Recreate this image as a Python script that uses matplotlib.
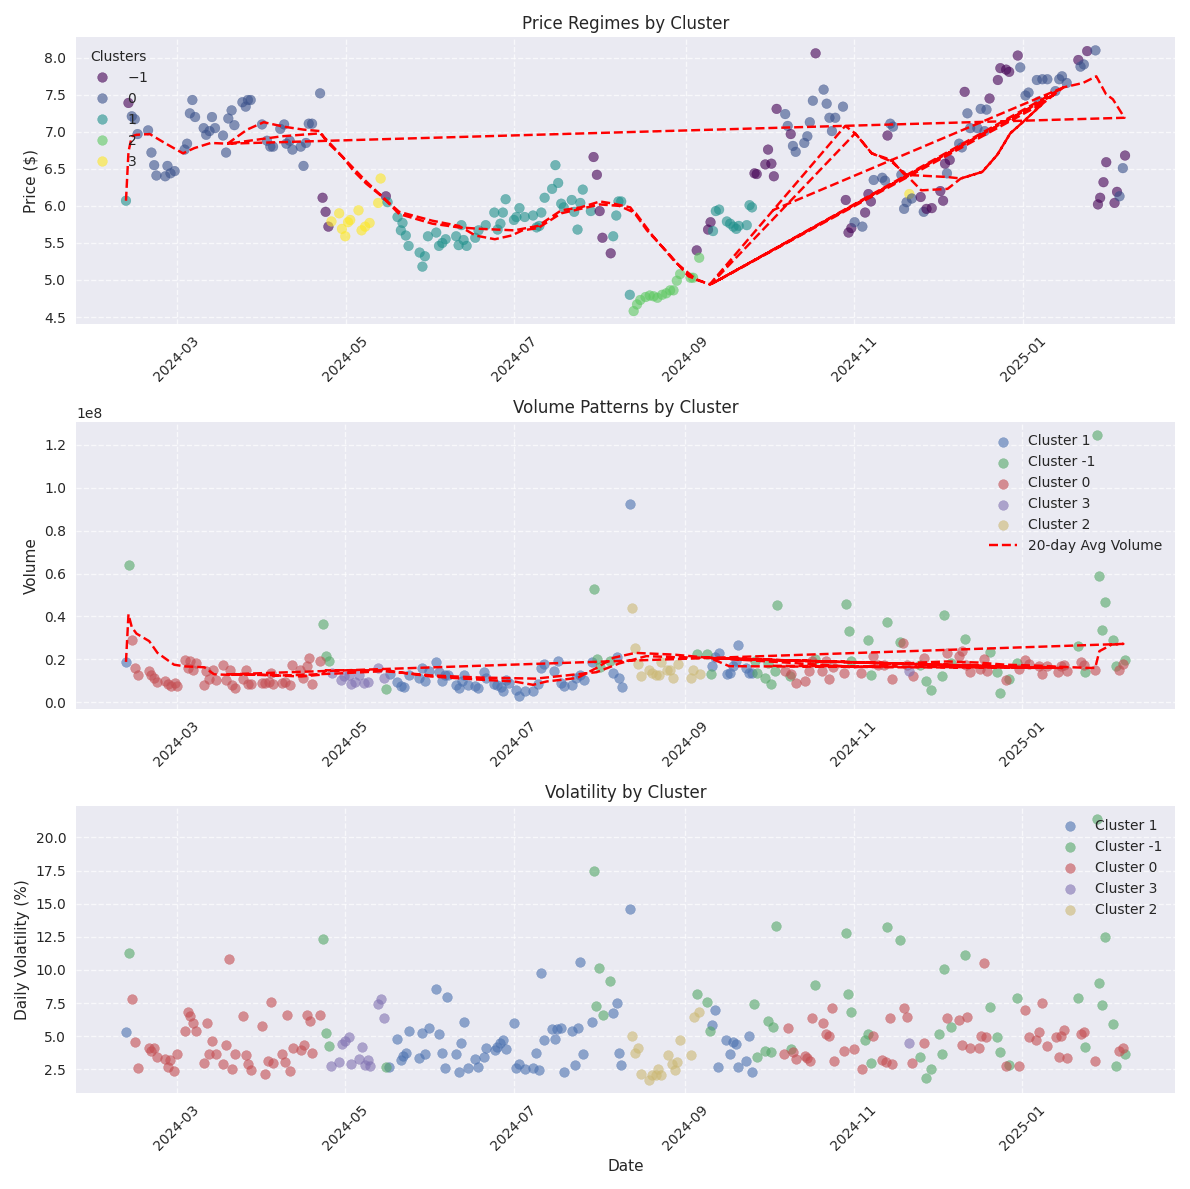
import numpy as np
import pandas as pd
import matplotlib
matplotlib.use("Agg")
import matplotlib.pyplot as plt
import matplotlib.dates as mdates

BASE = pd.Timestamp("2024-03-01")


def to_dates(days):
    return BASE + pd.to_timedelta(np.asarray(days, dtype=float), unit="D")


# ---------------- data: (day offset from 2024-03-01, value) ----------------
cluster_order = [1, -1, 0, 3, 2]

# Price ($)
price_c1 = [(-18.4, 6.07), (76.2, 6.05), (79.8, 5.85), (81.0, 5.67), (81.6, 5.77), (82.8, 5.60), (83.8, 5.46),
            (87.8, 5.37), (88.8, 5.18), (89.7, 5.32), (90.8, 5.59), (93.8, 5.64), (94.8, 5.46), (96.0, 5.50),
            (97.2, 5.55), (101.0, 5.59), (101.9, 5.47), (102.9, 5.74), (103.7, 5.54), (104.8, 5.46), (107.9, 5.57),
            (109.1, 5.67), (111.7, 5.74), (114.8, 5.91), (116.0, 5.68), (117.0, 5.76), (117.9, 5.91), (118.9, 6.09),
            (121.9, 5.81), (122.8, 5.85), (123.9, 5.97), (125.8, 5.85), (128.8, 5.87), (130.1, 5.71), (131.1, 5.73),
            (131.8, 5.91), (133.0, 6.11), (135.7, 6.23), (136.9, 6.55), (137.9, 6.31), (139.0, 6.03), (139.9, 5.98),
            (142.8, 6.08), (143.7, 5.92), (144.9, 5.68), (145.9, 6.04), (146.8, 6.22), (149.7, 5.93), (157.8, 5.59),
            (158.9, 5.87), (159.7, 6.06), (160.7, 6.06), (163.8, 4.80), (193.9, 5.66), (194.9, 5.93), (196.1, 5.95),
            (198.9, 5.79), (200.1, 5.76), (201.3, 5.72), (202.3, 5.69), (203.2, 5.73), (206.1, 5.74), (207.1, 6.01),
            (208.0, 5.98)]
price_cm1 = [(-17.5, 7.39), (52.7, 6.11), (53.8, 5.92), (54.8, 5.72), (75.6, 6.13), (150.7, 6.66), (151.9, 6.42),
             (152.9, 5.93), (153.9, 5.57), (156.9, 5.36), (188.0, 5.40), (192.1, 5.68), (193.0, 5.78), (208.9, 6.44),
             (209.7, 6.43), (212.8, 6.56), (213.8, 6.76), (215.0, 6.57), (215.9, 6.40), (216.9, 7.31), (222.0, 6.97),
             (231.0, 8.06), (241.9, 6.08), (242.9, 5.64), (243.9, 5.70), (248.9, 5.91), (250.1, 6.16), (251.0, 6.06),
             (257.0, 6.95), (269.0, 6.12), (271.1, 5.96), (273.0, 5.97), (276.1, 6.20), (277.1, 6.07), (277.8, 6.57),
             (279.5, 6.62), (284.9, 7.54), (293.9, 7.45), (296.9, 7.70), (297.8, 7.86), (299.9, 7.84), (301.0, 7.81),
             (304.1, 8.03), (326.0, 7.97), (329.2, 8.09), (333.1, 6.02), (333.9, 6.11), (335.1, 6.32), (336.1, 6.59),
             (339.1, 6.04), (340.0, 6.19), (342.9, 6.68)]
price_c0 = [(-16.3, 7.21), (-15.2, 7.17), (-14.2, 6.97), (-10.4, 7.02), (-9.2, 6.72), (-8.2, 6.55), (-7.4, 6.41),
            (-4.2, 6.40), (-3.4, 6.54), (-2.3, 6.44), (-0.8, 6.47), (2.8, 6.76), (3.7, 6.84), (4.7, 7.25), (5.6, 7.43),
            (6.6, 7.20), (9.7, 7.05), (10.6, 6.96), (11.8, 7.01), (12.7, 7.20), (13.8, 7.05), (16.7, 6.95),
            (17.8, 6.72), (18.6, 7.18), (19.8, 7.29), (20.8, 7.09), (23.7, 7.40), (24.9, 7.34), (25.7, 7.43),
            (26.7, 7.43), (30.8, 7.10), (32.6, 6.88), (33.8, 6.80), (34.8, 6.80), (37.4, 7.04), (38.8, 7.10),
            (39.6, 6.84), (40.8, 6.88), (41.8, 6.76), (44.8, 6.80), (45.8, 6.54), (46.7, 6.85), (47.7, 7.11),
            (48.9, 7.11), (51.8, 7.52), (220.0, 7.24), (220.9, 7.08), (222.8, 6.81), (223.8, 6.73), (226.9, 6.85),
            (228.0, 6.94), (228.9, 7.13), (230.0, 7.42), (233.9, 7.57), (235.0, 7.38), (236.0, 7.19), (236.9, 7.01),
            (238.1, 7.19), (240.9, 7.34), (245.1, 5.78), (247.9, 5.72), (252.0, 6.35), (255.1, 6.38), (256.1, 6.34),
            (258.0, 7.11), (259.0, 7.07), (262.0, 6.42), (263.0, 5.96), (263.9, 6.05), (265.8, 6.10), (270.1, 5.92),
            (278.5, 6.44), (282.9, 6.84), (283.9, 6.79), (285.9, 7.25), (286.9, 7.05), (289.5, 7.05), (290.7, 7.31),
            (292.1, 7.01), (292.8, 7.30), (305.0, 7.87), (306.9, 7.49), (308.0, 7.53), (311.0, 7.70), (311.7, 7.41),
            (313.0, 7.71), (314.8, 7.71), (317.7, 7.55), (319.1, 7.71), (320.1, 7.75), (321.8, 7.66), (326.8, 7.88),
            (328.0, 7.91), (332.2, 8.10), (340.9, 6.13), (342.1, 6.51)]
price_c3 = [(55.9, 5.79), (58.7, 5.90), (59.7, 5.69), (60.9, 5.59), (61.9, 5.78), (62.7, 5.81), (65.7, 5.94),
            (66.8, 5.67), (68.1, 5.72), (69.7, 5.77), (72.8, 6.04), (73.7, 6.37), (264.9, 6.16)]
price_c2 = [(165.2, 4.58), (166.4, 4.67), (167.6, 4.73), (169.5, 4.77), (171.0, 4.79), (172.4, 4.78), (173.8, 4.76),
            (175.5, 4.80), (177.0, 4.82), (178.4, 4.86), (179.6, 4.86), (180.8, 4.99), (182.0, 5.08), (185.8, 5.03),
            (186.7, 5.03), (188.9, 5.30)]

# 20-day moving average of price, in plotted order
price_ma_day = [-18.4, -17.5, -16.3, -14.6, -9.8, -4.4, 2.2, 6.3, 12.3, 18.3, 25.4, 31.4, 38.6, 45.8, 51.8, 54.1,
                60.0, 63.7, 68.5, 74.4, 80.4, 92.4, 101.9, 110.0, 122.0, 130.6, 139.0, 146.0, 153.0, 158.0, 164.0,
                170.0, 178.0, 185.0, 192.7,
                241.7, 245.3, 251.3, 258.4, 263.2, 269.2, 278.7, 283.5, 291.3, 296.7, 301.4, 306.2, 313.4, 320.6,
                327.7, 332.5, 336.0, 338.5, 342.7,
                18.3, 38.0, 51.8, 54.5, 61.0, 68.5, 75.0, 80.4, 92.4, 102.0, 108.0, 115.0, 121.0, 125.0, 130.6,
                139.0, 146.0, 153.0, 160.0, 166.0, 172.0, 180.0, 188.0, 193.0,
                245.3, 251.3, 258.4, 263.2, 278.7, 283.5, 291.3, 296.7, 301.4, 306.2, 313.4,
                193.5, 318.0, 194.5, 320.6, 215.4]
price_ma_val = [6.07, 6.73, 6.94, 6.96, 6.97, 6.85, 6.71, 6.78, 6.85, 6.84, 7.03, 7.13, 7.07, 7.03, 7.01, 6.87,
                6.66, 6.48, 6.30, 6.12, 5.89, 5.76, 5.71, 5.69, 5.67, 5.73, 5.94, 5.98, 6.06, 6.03, 5.98,
                5.67, 5.35, 5.05, 4.94,
                7.08, 6.98, 6.71, 6.60, 6.44, 6.21, 6.23, 6.37, 6.46, 6.69, 6.98, 7.14, 7.39, 7.60,
                7.66, 7.75, 7.51, 7.44, 7.19,
                6.84, 6.94, 6.98, 6.88, 6.62, 6.33, 6.10, 5.92, 5.80, 5.73, 5.60, 5.55, 5.60, 5.67, 5.70,
                5.90, 5.96, 6.02, 6.00, 5.90, 5.60, 5.25, 5.00, 4.94,
                6.98, 6.71, 6.62, 6.42, 6.39, 6.37, 6.46, 6.69, 6.98, 7.14, 7.39,
                4.95, 7.52, 4.97, 7.60, 5.94]

# Volume (millions of shares)
vol_c1 = [(-18.4, 18.8), (77.1, 13.1), (79.8, 9.2), (81.0, 7.4), (82.2, 6.9), (84.0, 12.8), (87.6, 11.3),
          (88.8, 16.0), (90.0, 9.7), (91.2, 14.4), (93.9, 18.6), (95.0, 13.9), (95.9, 9.7), (97.1, 12.8),
          (98.1, 12.8), (101.0, 8.1), (102.2, 6.6), (103.1, 9.7), (104.1, 12.8), (105.3, 8.1), (107.9, 7.4),
          (109.1, 6.6), (111.3, 14.1), (112.1, 11.3), (114.8, 8.6), (116.0, 8.1), (117.2, 6.9), (118.1, 5.0),
          (119.1, 10.5), (120.4, 8.9), (122.7, 5.8), (123.8, 3.1), (126.1, 5.3), (129.0, 5.3), (130.6, 8.6),
          (131.8, 16.0), (133.0, 17.8), (136.6, 14.4), (138.0, 19.4), (139.2, 8.9), (140.1, 7.4), (143.2, 8.1),
          (144.6, 11.3), (145.8, 12.8), (147.3, 10.5), (150.3, 18.6), (157.8, 13.6), (159.3, 21.0), (160.2, 11.3),
          (161.1, 6.9), (164.0, 92.6), (193.7, 16.8), (194.9, 21.0), (196.3, 23.0), (199.3, 13.1), (200.1, 13.6),
          (201.3, 16.8), (202.3, 19.1), (203.2, 26.6), (206.1, 16.0), (207.1, 13.6), (208.2, 13.6)]
vol_cm1 = [(-17.3, 63.8), (52.9, 36.7), (54.1, 21.4), (55.1, 19.4), (75.9, 6.2), (150.9, 52.7), (152.1, 20.3),
           (153.3, 16.3), (156.9, 19.0), (188.2, 22.5), (192.1, 22.5), (193.3, 13.1), (209.5, 19.4), (210.0, 13.6),
           (213.0, 11.3), (214.2, 18.3), (215.2, 8.6), (216.4, 14.4), (217.2, 45.4), (222.0, 12.1), (231.0, 20.0),
           (242.3, 46.0), (243.2, 33.2), (244.1, 19.1), (250.1, 29.0), (251.3, 12.5), (257.0, 37.4), (262.0, 28.0),
           (269.2, 17.5), (271.3, 9.7), (273.0, 5.8), (277.0, 12.1), (277.8, 40.7), (280.2, 18.3), (285.3, 29.6),
           (294.3, 23.3), (297.0, 13.9), (298.2, 4.2), (301.2, 10.8), (304.1, 18.3), (326.3, 26.4), (328.9, 13.9),
           (333.3, 124.7), (333.9, 59.0), (335.1, 33.6), (336.1, 46.9), (339.1, 29.2), (339.9, 16.8), (343.3, 19.6)]
vol_c0 = [(-16.1, 28.8), (-15.0, 16.0), (-13.9, 12.5), (-10.1, 14.4), (-9.2, 12.8), (-8.2, 11.3), (-7.2, 9.2),
          (-4.1, 9.7), (-3.2, 8.6), (-2.0, 7.4), (-0.8, 8.9), (0.1, 7.4), (2.8, 19.6), (3.9, 16.0), (4.9, 19.1),
          (5.9, 15.2), (7.1, 18.3), (9.9, 8.1), (10.5, 14.4), (11.7, 10.9), (13.2, 14.9), (14.1, 10.5), (16.7, 17.5),
          (17.9, 10.5), (19.1, 15.2), (19.9, 8.1), (20.9, 6.6), (24.0, 10.8), (25.1, 14.9), (25.8, 8.6), (26.9, 8.6),
          (30.8, 8.9), (32.0, 8.9), (33.2, 9.2), (34.2, 13.6), (35.0, 8.6), (38.0, 8.9), (39.2, 9.2), (41.0, 8.1),
          (41.8, 17.5), (44.6, 14.9), (45.8, 11.3), (47.0, 16.8), (47.9, 20.6), (49.1, 8.6), (52.0, 19.1),
          (220.2, 14.4), (222.4, 13.1), (224.0, 8.9), (227.4, 10.0), (228.8, 14.7), (230.1, 19.1), (233.7, 14.4),
          (235.1, 19.1), (236.2, 10.8), (237.5, 16.3), (241.5, 13.6), (247.7, 13.6), (252.2, 21.4), (253.7, 17.5),
          (256.1, 17.5), (259.0, 10.8), (263.0, 27.4), (264.2, 17.5), (266.6, 12.3), (270.4, 20.6), (278.7, 23.0),
          (283.3, 21.4), (284.1, 24.1), (285.9, 17.5), (287.1, 13.9), (290.7, 15.6), (292.1, 20.3), (293.3, 14.4),
          (300.3, 10.5), (305.0, 15.6), (307.2, 19.6), (308.4, 18.0), (312.2, 16.8), (313.2, 13.1), (315.2, 16.8),
          (319.1, 13.9), (320.0, 17.0), (321.2, 17.5), (322.4, 14.4), (327.4, 18.6), (328.3, 17.5), (332.3, 14.9),
          (341.1, 15.2), (342.4, 18.0)]
vol_c3 = [(56.1, 13.6), (59.5, 10.2), (60.5, 12.3), (62.2, 12.8), (63.1, 8.6), (64.5, 9.5), (66.1, 12.8),
          (67.9, 8.9), (69.1, 9.2), (73.0, 16.0), (75.1, 11.3), (265.2, 14.7)]
vol_c2 = [(164.9, 43.8), (165.8, 25.3), (167.0, 17.8), (168.2, 12.3), (171.0, 15.2), (172.2, 13.6), (173.4, 12.5),
          (174.6, 12.5), (175.2, 18.6), (177.4, 15.2), (178.4, 15.2), (179.6, 11.3), (181.4, 17.8), (186.2, 11.3),
          (187.0, 15.2), (189.4, 13.1)]

# 20-day average volume (millions), in plotted order
vol_ma_day = [-18.4, -17.5, -16.3, -14.6, -10.0, -7.0, -1.0, 3.0, 10.0, 13.5, 18.0, 30.0, 45.0, 52.0, 54.0, 75.0,
              92.0, 110.0, 122.0, 129.0, 134.0, 145.0, 152.0, 158.0, 166.0, 180.0, 192.7, 196.0, 200.0,
              241.7, 245.3, 258.0, 269.0, 279.0, 290.0, 300.0, 313.0, 320.0, 330.0, 332.5, 334.0, 338.5, 342.7,
              18.3, 40.0, 60.0, 75.0, 92.0, 110.0, 130.0, 152.0, 160.0, 170.0, 180.0, 193.0,
              245.3, 258.0, 283.5, 313.4, 193.5, 318.0, 194.5, 320.6, 215.4]
vol_ma_val = [18.8, 41.0, 35.0, 32.0, 28.5, 23.0, 17.5, 16.7, 16.3, 13.0, 12.8, 12.8, 12.0, 12.8, 14.9, 14.9,
              12.0, 10.5, 9.7, 8.1, 9.7, 11.3, 16.0, 20.7, 23.0, 22.2, 20.7, 19.0, 16.8,
              16.5, 16.3, 17.5, 18.5, 19.0, 18.5, 17.5, 17.0, 16.5, 16.0, 16.0, 23.8, 26.9, 27.2,
              13.0, 12.5, 13.5, 14.5, 12.5, 11.5, 11.0, 14.0, 18.0, 21.5, 21.0, 20.7,
              16.5, 16.3, 16.2, 16.0, 20.5, 16.0, 20.5, 16.0, 17.0]

# Daily volatility (%)
vola_c1 = [(-18.4, 5.31), (76.8, 2.65), (79.9, 4.78), (81.0, 3.21), (81.9, 3.51), (82.8, 3.76), (84.0, 5.38),
           (87.8, 3.34), (88.9, 5.24), (90.0, 3.64), (91.2, 5.62), (93.9, 8.58), (95.0, 5.18), (96.1, 3.71),
           (97.1, 2.62), (97.8, 7.97), (101.1, 3.64), (102.2, 2.32), (102.9, 4.48), (103.9, 6.09), (105.3, 2.62),
           (107.9, 3.26), (109.1, 2.65), (111.1, 3.46), (112.0, 4.12), (115.1, 3.97), (116.0, 4.22), (117.1, 4.48),
           (118.1, 4.73), (119.1, 4.02), (121.9, 6.00), (122.9, 2.62), (124.0, 2.90), (126.1, 2.50), (129.0, 2.62),
           (130.1, 3.71), (131.2, 2.45), (131.8, 9.74), (133.0, 4.73), (136.0, 5.56), (136.9, 4.78), (137.8, 5.56),
           (139.2, 5.62), (140.1, 2.32), (143.2, 5.36), (144.1, 2.83), (145.3, 5.62), (145.9, 10.63), (147.0, 3.64),
           (150.2, 6.07), (158.1, 6.75), (159.3, 7.51), (160.2, 3.71), (160.9, 2.83), (164.2, 14.60), (193.9, 5.87),
           (194.9, 7.01), (196.1, 2.70), (198.9, 4.68), (200.1, 3.64), (201.3, 4.55), (202.3, 4.40), (203.2, 2.70),
           (206.1, 3.13), (207.1, 5.03), (208.2, 2.32)]
vola_cm1 = [(-17.3, 11.26), (52.9, 12.33), (54.1, 5.24), (55.0, 4.27), (75.9, 2.65), (150.9, 17.47), (151.9, 7.31),
            (152.9, 10.17), (154.3, 6.63), (156.9, 9.19), (188.2, 8.15), (192.1, 7.59), (193.1, 5.41), (209.0, 7.46),
            (210.0, 3.41), (213.0, 3.91), (214.0, 6.12), (215.2, 3.79), (216.0, 5.69), (217.1, 13.34), (222.2, 4.02),
            (231.2, 8.88), (242.3, 12.76), (242.9, 8.15), (244.1, 6.85), (249.1, 4.73), (250.1, 5.18), (251.3, 2.96),
            (257.0, 13.21), (262.0, 12.25), (269.2, 3.41), (271.3, 1.82), (273.1, 2.50), (275.9, 5.18), (277.0, 3.64),
            (277.8, 10.05), (280.2, 5.69), (285.3, 11.16), (294.3, 7.21), (297.0, 4.93), (298.2, 3.79), (301.2, 2.83),
            (304.2, 7.89), (326.2, 7.89), (328.9, 4.17), (333.3, 21.37), (333.9, 9.04), (335.1, 7.36), (336.1, 12.45),
            (339.1, 5.92), (340.0, 2.78), (343.3, 3.64)]
vola_c0 = [(-16.1, 7.82), (-15.0, 4.55), (-13.9, 2.58), (-10.1, 4.10), (-9.2, 3.91), (-8.2, 4.10), (-7.2, 3.46),
           (-4.1, 3.26), (-3.2, 2.70), (-2.3, 3.21), (-1.1, 2.39), (0.0, 3.64), (2.8, 5.41), (3.9, 6.85), (4.9, 6.55),
           (5.9, 6.00), (7.0, 5.41), (9.9, 2.96), (10.9, 6.00), (11.8, 3.64), (12.9, 4.65), (14.1, 3.64), (16.8, 2.90),
           (17.9, 4.32), (18.9, 10.81), (20.1, 2.52), (20.9, 3.64), (24.0, 6.55), (25.1, 3.59), (25.8, 2.88),
           (26.9, 2.45), (30.8, 5.74), (31.9, 2.14), (33.0, 3.13), (34.1, 7.59), (34.9, 2.96), (38.0, 3.64),
           (39.2, 3.08), (39.8, 6.57), (41.0, 2.37), (41.9, 4.10), (44.8, 3.97), (45.9, 4.32), (47.0, 6.57),
           (48.2, 6.14), (49.1, 3.71), (52.0, 6.60), (220.0, 3.64), (221.1, 5.62), (223.1, 3.79), (224.0, 3.28),
           (227.4, 3.53), (228.2, 3.34), (229.2, 3.13), (230.1, 6.38), (233.9, 6.00), (235.1, 5.18), (236.2, 5.03),
           (237.2, 7.13), (238.1, 3.13), (241.4, 3.91), (245.3, 4.04), (248.2, 2.52), (252.1, 5.05), (255.2, 3.21),
           (256.6, 3.03), (258.1, 6.38), (259.1, 2.88), (263.2, 7.13), (264.2, 6.45), (266.3, 2.96), (270.4, 4.48),
           (278.7, 6.38), (283.3, 6.19), (284.2, 4.32), (286.2, 6.45), (287.1, 4.10), (290.4, 4.10), (291.0, 5.03),
           (292.1, 10.55), (293.1, 4.93), (300.3, 2.75), (305.0, 2.75), (307.2, 7.01), (308.4, 4.93), (311.0, 4.73),
           (312.2, 5.31), (313.2, 7.51), (315.2, 4.27), (318.2, 4.93), (319.4, 3.41), (320.0, 5.03), (321.2, 5.49),
           (322.4, 3.34), (327.4, 5.18), (328.6, 5.31), (332.3, 3.13), (341.2, 3.91), (342.4, 4.14)]
vola_c3 = [(55.9, 2.77), (58.8, 3.08), (59.9, 4.40), (60.9, 4.65), (62.2, 4.93), (63.1, 2.88), (65.9, 3.26),
           (67.0, 4.17), (68.1, 2.83), (69.1, 3.21), (69.9, 2.77), (73.0, 7.46), (74.0, 7.82), (75.1, 6.38),
           (265.2, 4.48)]
vola_c2 = [(164.9, 5.03), (165.9, 3.71), (166.9, 4.10), (168.1, 2.12), (171.0, 1.69), (172.2, 2.07), (173.4, 2.07),
           (174.3, 2.52), (175.2, 2.07), (177.9, 3.59), (179.4, 2.90), (180.2, 2.45), (181.0, 3.03), (182.0, 4.73),
           (186.0, 3.59), (187.1, 6.45), (189.1, 6.80)]

price_by_cluster = {1: price_c1, -1: price_cm1, 0: price_c0, 3: price_c3, 2: price_c2}
vol_by_cluster = {1: vol_c1, -1: vol_cm1, 0: vol_c0, 3: vol_c3, 2: vol_c2}
vola_by_cluster = {1: vola_c1, -1: vola_cm1, 0: vola_c0, 3: vola_c3, 2: vola_c2}

# ---------------- plotting ----------------
plt.style.use("seaborn-v0_8")
plt.rcParams["font.family"] = ["DejaVu Sans"]

fig, (ax1, ax2, ax3) = plt.subplots(3, 1, figsize=(11.9, 11.89), dpi=100)

# Panel 1: price coloured by cluster
all_d, all_p, all_c = [], [], []
for c in cluster_order:
    for d, v in price_by_cluster[c]:
        all_d.append(d)
        all_p.append(v)
        all_c.append(c)
order = np.argsort(all_d)
all_d = np.array(all_d)[order]
all_p = np.array(all_p)[order]
all_c = np.array(all_c)[order]
sc = ax1.scatter(to_dates(all_d), all_p, c=all_c, cmap="viridis", alpha=0.6)
ax1.plot(to_dates(price_ma_day), price_ma_val, "r--", label="20-day MA")
ax1.legend(*sc.legend_elements(), title="Clusters", loc="upper left")
ax1.set_title("Price Regimes by Cluster")
ax1.set_ylabel("Price ($)")

# Panel 2: volume
for c in cluster_order:
    pts = np.array(vol_by_cluster[c])
    ax2.scatter(to_dates(pts[:, 0]), pts[:, 1] * 1e6, label=f"Cluster {c}", alpha=0.6)
ax2.plot(to_dates(vol_ma_day), np.array(vol_ma_val) * 1e6, "r--", label="20-day Avg Volume")
ax2.legend(loc="upper right")
ax2.set_title("Volume Patterns by Cluster")
ax2.set_ylabel("Volume")

# Panel 3: volatility
for c in cluster_order:
    pts = np.array(vola_by_cluster[c])
    ax3.scatter(to_dates(pts[:, 0]), pts[:, 1], label=f"Cluster {c}", alpha=0.6)
ax3.legend(loc="upper right")
ax3.set_title("Volatility by Cluster")
ax3.set_ylabel("Daily Volatility (%)")
ax3.set_xlabel("Date")

for ax in (ax1, ax2, ax3):
    ax.grid(True, linestyle="--", alpha=0.7)
    ax.xaxis.set_major_locator(mdates.MonthLocator(bymonth=[1, 3, 5, 7, 9, 11]))
    ax.xaxis.set_major_formatter(mdates.DateFormatter("%Y-%m"))
    ax.tick_params(axis="x", rotation=45)

fig.tight_layout()
fig.savefig("out.png", dpi=100)
